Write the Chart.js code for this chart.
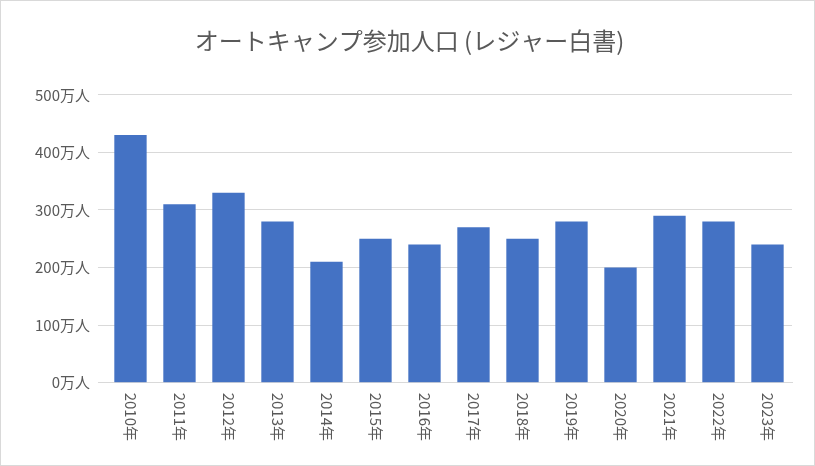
<!DOCTYPE html>
<html><head><meta charset="utf-8">
<script src="https://cdn.jsdelivr.net/npm/chart.js@4"></script>
<style>body{margin:0;background:#fff}#w{width:813px;height:464px;border:1px solid #d9d9d9;position:relative}</style>
</head><body><div id="w"><canvas id="c"></canvas></div>
<script>
const categories=["2010年","2011年","2012年","2013年","2014年","2015年","2016年","2017年","2018年","2019年","2020年","2021年","2022年","2023年"];
const values=[430,310,330,280,210,250,240,270,250,280,200,290,280,240];
const yTicks=[0,100,200,300,400,500];
const font="'Noto Sans CJK JP', sans-serif";
const vlabels={id:'vl',afterDraw(ch){const s=ch.scales.x,ctx=ch.ctx;ctx.save();ctx.fillStyle='#595959';ctx.font="15px "+font;ctx.textBaseline='middle';
categories.forEach((t,i)=>{const x=s.getPixelForTick(i);ctx.save();ctx.translate(x,s.top+10);ctx.rotate(Math.PI/2);ctx.fillText(t,0,0);ctx.restore();});ctx.restore();}};
new Chart(document.getElementById('c'),{type:'bar',data:{labels:categories,datasets:[{data:values,backgroundColor:'#4472c4',categoryPercentage:1,barPercentage:0.66}]},
options:{responsive:true,maintainAspectRatio:false,animation:false,layout:{padding:{left:26,right:22,top:10,bottom:18}},
plugins:{legend:{display:false},tooltip:{enabled:false},title:{display:true,text:'オートキャンプ参加人口 (レジャー白書)',color:'#595959',font:{family:font,size:24,weight:'normal'},padding:{top:15,bottom:40}}},
scales:{x:{grid:{display:false},border:{color:'#d9d9d9'},ticks:{color:'rgba(0,0,0,0)',font:{family:font,size:15},maxRotation:90,minRotation:90,padding:4}},
y:{min:0,max:500,afterBuildTicks(a){a.ticks=yTicks.map(v=>({value:v}));},grid:{color:'#d9d9d9'},border:{display:false},ticks:{color:'#595959',font:{family:font,size:15},padding:8,callback:v=>v+'万人'}}}},plugins:[vlabels]});
</script></body></html>
